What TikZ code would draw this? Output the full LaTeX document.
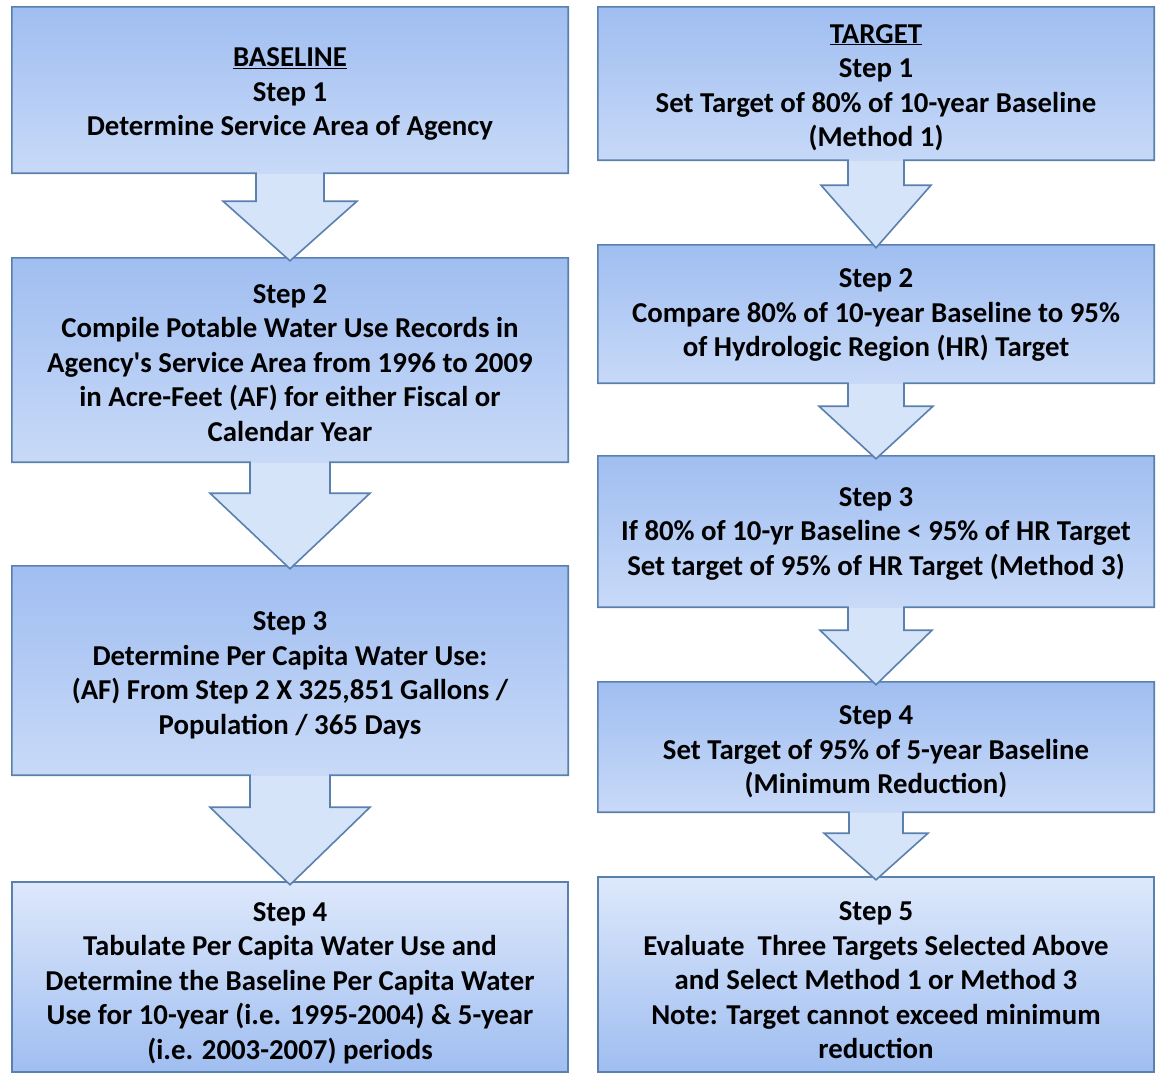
\documentclass[tikz,border=0pt]{standalone}
\usepackage{fontspec}
\setmainfont{Carlito}
\usetikzlibrary{calc}
\definecolor{edgeblue}{HTML}{5A80AE}
\definecolor{darkfill}{HTML}{A0BEF1}
\definecolor{lightfill}{HTML}{DDE8FB}
\definecolor{arrowfill}{HTML}{D6E4FA}
\pgfdeclarelayer{shad}
\pgfdeclarelayer{bg}
\pgfsetlayers{shad,bg,main}
\tikzset{
  box/.style={rectangle, inner sep=0pt, minimum width=556pt},
  txt/.style={inner sep=0pt, align=center,
    font=\bfseries\fontsize{28.8}{34.5}\selectfont},
  outline/.style={draw=edgeblue, line width=1.6pt, line join=miter},
  shadowfill/.style={fill=black, opacity=0.2},
}
% #1 box, #2 next box, #3 shaft half width, #4 head half width, #5 gap to head
\newcommand\calloutshape[5]{%
  \begin{pgfonlayer}{shad}
    \fill[shadowfill, shift={(2,3)}]
      (#1.north west) -- (#1.north east) -- (#1.south east)
      -- ($(#1.south)+(#3,0)$) -- ($(#1.south)+(#3,#5)$) -- ($(#1.south)+(#4,#5)$)
      -- ($(#1.south |- #2.north)+(0,3)$)
      -- ($(#1.south)+(-#4,#5)$) -- ($(#1.south)+(-#3,#5)$) -- ($(#1.south)+(-#3,0)$)
      -- (#1.south west) -- cycle;
  \end{pgfonlayer}
  \begin{pgfonlayer}{bg}
    \draw[outline, fill=arrowfill,
      path picture={\shade[top color=darkfill, bottom color=lightfill]
        (#1.north west) rectangle (#1.south east);}]
      (#1.north west) -- (#1.north east) -- (#1.south east)
      -- ($(#1.south)+(#3,0)$) -- ($(#1.south)+(#3,#5)$) -- ($(#1.south)+(#4,#5)$)
      -- ($(#1.south |- #2.north)+(0,3)$)
      -- ($(#1.south)+(-#4,#5)$) -- ($(#1.south)+(-#3,#5)$) -- ($(#1.south)+(-#3,0)$)
      -- (#1.south west) -- cycle;
  \end{pgfonlayer}
}
\newcommand\finalbox[1]{%
  \begin{pgfonlayer}{shad}
    \fill[shadowfill, shift={(2,3)}] (#1.north west) rectangle (#1.south east);
  \end{pgfonlayer}
  \begin{pgfonlayer}{bg}
    \draw[outline, top color=lightfill, bottom color=darkfill]
      (#1.north west) rectangle (#1.south east);
  \end{pgfonlayer}
}
\begin{document}
\begin{tikzpicture}[x=1pt, y=-1pt]
\begin{pgfonlayer}{shad}
  \fill[white] (0,0) rectangle (1156,1076);
\end{pgfonlayer}
\useasboundingbox (0,0) rectangle (1156,1076);

% left column boxes
\node[box, minimum height=166pt] (L1) at (290,90) {};
\node[box, minimum height=204pt] (L2) at (290,360) {};
\node[box, minimum height=209pt] (L3) at (290,670.5) {};
\node[box, minimum height=190pt] (L4) at (290,977) {};
% right column boxes
\node[box, minimum height=153pt] (R1) at (876,83.5) {};
\node[box, minimum height=138pt] (R2) at (876,314) {};
\node[box, minimum height=151pt] (R3) at (876,531.5) {};
\node[box, minimum height=130pt] (R4) at (876,747) {};
\node[box, minimum height=195pt] (R5) at (876,974.5) {};

% texts
\node[txt] (L1t) at ($(L1)+(0,4)$)
  {\underline{BASELINE}\\Step 1\\Determine Service Area of Agency};
\node[txt] (L2t) at ($(L2)+(0,3)$)
  {Step 2\\Compile Potable Water Use Records in\\Agency\textquotesingle s Service Area from 1996 to 2009\\in Acre-Feet (AF) for either Fiscal or\\Calendar Year};
\node[txt] (L3t) at ($(L3)+(0,5)$)
  {Step 3\\Determine Per Capita Water Use:\\(AF) From Step 2 X 325,851 Gallons /\\Population / 365 Days};
\node[txt] (L4t) at ($(L4)+(0,6)$)
  {Step 4\\Tabulate Per Capita Water Use and\\Determine the Baseline Per Capita Water\\Use for 10-year (i.e. 1995-2004) \& 5-year\\(i.e. 2003-2007) periods};
\node[txt] (R1t) at ($(R1)+(0,4)$)
  {\underline{TARGET}\\Step 1\\Set Target of 80\% of 10-year Baseline\\(Method 1)};
\node[txt] (R2t) at ($(R2)+(0,1)$)
  {Step 2\\Compare 80\% of 10-year Baseline to 95\%\\of Hydrologic Region (HR) Target};
\node[txt] (R3t) at ($(R3)+(0,2)$)
  {Step 3\\If 80\% of 10-yr Baseline < 95\% of HR Target\\Set target of 95\% of HR Target (Method 3)};
\node[txt] (R4t) at ($(R4)+(0,5)$)
  {Step 4\\Set Target of 95\% of 5-year Baseline\\(Minimum Reduction)};
\node[txt] (R5t) at ($(R5)+(0,6)$)
  {Step 5\\Evaluate~ Three Targets Selected Above\\and Select Method 1 or Method 3\\Note: Target cannot exceed minimum\\reduction};

% shapes, drawn bottom-up so arrow tips lie over the next box
\finalbox{L4}
\calloutshape{L3}{L4}{40}{80}{32}
\calloutshape{L2}{L3}{40}{80}{31}
\calloutshape{L1}{L2}{34}{67}{28}

\finalbox{R5}
\calloutshape{R4}{R5}{27}{52}{21}
\calloutshape{R3}{R4}{28}{56}{23}
\calloutshape{R2}{R3}{28}{57}{23}
\calloutshape{R1}{R2}{28}{55}{25}
\end{tikzpicture}
\end{document}
